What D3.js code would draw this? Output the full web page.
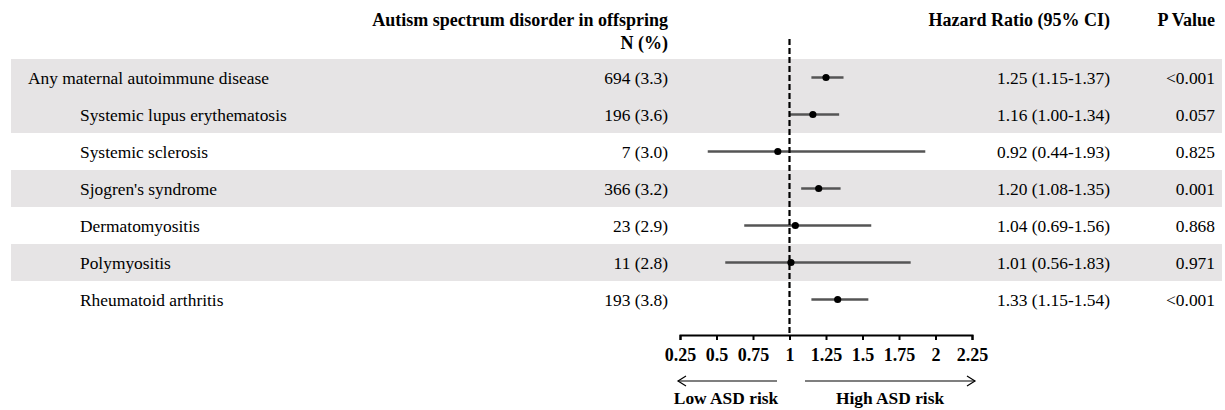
<!DOCTYPE html>
<html>
<head>
<meta charset="utf-8">
<script src="https://cdn.jsdelivr.net/npm/d3@7.9.0/dist/d3.min.js"></script>
<style>
  body { margin: 0; background: #fff; }
  svg { display: block; font-family: "Liberation Serif", "Times New Roman", serif; }
</style>
</head>
<body>
<svg id="chart"></svg>
<script>
// data
const labels = ['Any maternal autoimmune disease', 'Systemic lupus erythematosis', 'Systemic sclerosis',
  "Sjogren's syndrome", 'Dermatomyositis', 'Polymyositis', 'Rheumatoid arthritis'];
const nCases = ['694 (3.3)', '196 (3.6)', '7 (3.0)', '366 (3.2)', '23 (2.9)', '11 (2.8)', '193 (3.8)'];
const hr = [1.25, 1.16, 0.92, 1.20, 1.04, 1.01, 1.33];
const lower = [1.15, 1.00, 0.44, 1.08, 0.69, 0.56, 1.15];
const upper = [1.37, 1.34, 1.93, 1.35, 1.56, 1.83, 1.54];
const pValues = ['<0.001', '0.057', '0.825', '0.001', '0.868', '0.971', '<0.001'];
const tickValues = [0.25, 0.5, 0.75, 1, 1.25, 1.5, 1.75, 2, 2.25];

const width = 1225, height = 410;
const svg = d3.select('#chart').attr('width', width).attr('height', height);

// layout
const rowTop = 59, rowH = 37;
const x = d3.scaleLinear().domain([0.25, 2.25]).range([680, 972]);
const y = d3.scaleBand().domain(d3.range(labels.length))
  .range([rowTop, rowTop + rowH * labels.length]).padding(0);
const axisY = 335;
const bodySize = 17.4, boldSize = 18;

// shaded rows
svg.selectAll('rect.band')
  .data(d3.range(labels.length).filter(i => [0, 1, 3, 5].includes(i)))
  .join('rect')
  .attr('class', 'band')
  .attr('x', 11).attr('width', 1211)
  .attr('y', i => y(i)).attr('height', y.bandwidth())
  .attr('fill', '#e6e4e5');

// headers
const hdr = svg.append('g').attr('font-weight', 'bold').attr('font-size', boldSize).attr('fill', '#000');
hdr.append('text').attr('x', 668).attr('y', 26).attr('text-anchor', 'end').text('Autism spectrum disorder in offspring');
hdr.append('text').attr('x', 668).attr('y', 49).attr('text-anchor', 'end').text('N (%)');
hdr.append('text').attr('x', 1110).attr('y', 26).attr('text-anchor', 'end').text('Hazard Ratio (95% CI)');
hdr.append('text').attr('x', 1215).attr('y', 26).attr('text-anchor', 'end').text('P Value');

// table text
const rows = svg.selectAll('g.row')
  .data(d3.range(labels.length))
  .join('g')
  .attr('class', 'row')
  .attr('transform', i => `translate(0,${y(i) + y.bandwidth() / 2})`)
  .attr('font-size', bodySize);

rows.append('text').attr('x', i => i === 0 ? 28 : 80).attr('dy', '0.35em').text(i => labels[i]);
rows.append('text').attr('x', 668).attr('dy', '0.35em').attr('text-anchor', 'end').text(i => nCases[i]);
rows.append('text').attr('x', 1110).attr('dy', '0.35em').attr('text-anchor', 'end')
  .text(i => `${hr[i].toFixed(2)} (${lower[i].toFixed(2)}-${upper[i].toFixed(2)})`);
rows.append('text').attr('x', 1215).attr('dy', '0.35em').attr('text-anchor', 'end').text(i => pValues[i]);

// reference line at 1
svg.append('line')
  .attr('x1', x(1)).attr('x2', x(1))
  .attr('y1', 39).attr('y2', axisY)
  .attr('stroke', '#000').attr('stroke-width', 2.2)
  .attr('stroke-dasharray', '6,3');

// CI lines and points
rows.append('line')
  .attr('x1', i => x(lower[i])).attr('x2', i => x(upper[i]))
  .attr('stroke', '#555').attr('stroke-width', 2.5);
rows.append('circle')
  .attr('cx', i => x(hr[i])).attr('r', 3.6).attr('fill', '#000');

// axis
const axis = svg.append('g')
  .attr('transform', `translate(0,${axisY})`)
  .call(d3.axisBottom(x).tickValues(tickValues).tickSize(5).tickSizeOuter(5).tickPadding(8)
    .tickFormat(d3.format('')));
axis.select('.domain').attr('stroke', '#000').attr('stroke-width', 2);
axis.selectAll('.tick line').attr('stroke', '#000').attr('stroke-width', 2);
axis.selectAll('.tick text')
  .attr('font-family', '"Liberation Serif", "Times New Roman", serif')
  .attr('font-size', boldSize).attr('font-weight', 'bold').attr('fill', '#000');

// direction arrows
const arrowY = 381;
const arrows = svg.append('g').attr('stroke', '#000').attr('stroke-width', 1.2).attr('fill', 'none');
arrows.append('line').attr('x1', 678).attr('x2', 777).attr('y1', arrowY).attr('y2', arrowY);
arrows.append('path').attr('d', `M686,${arrowY - 5}L678,${arrowY}L686,${arrowY + 5}`);
arrows.append('line').attr('x1', 805).attr('x2', 975).attr('y1', arrowY).attr('y2', arrowY);
arrows.append('path').attr('d', `M967,${arrowY - 5}L975,${arrowY}L967,${arrowY + 5}`);

svg.append('text').attr('x', 726).attr('y', 404).attr('text-anchor', 'middle')
  .attr('font-size', bodySize).attr('font-weight', 'bold').text('Low ASD risk');
svg.append('text').attr('x', 890).attr('y', 404).attr('text-anchor', 'middle')
  .attr('font-size', bodySize).attr('font-weight', 'bold').text('High ASD risk');
</script>
</body>
</html>
